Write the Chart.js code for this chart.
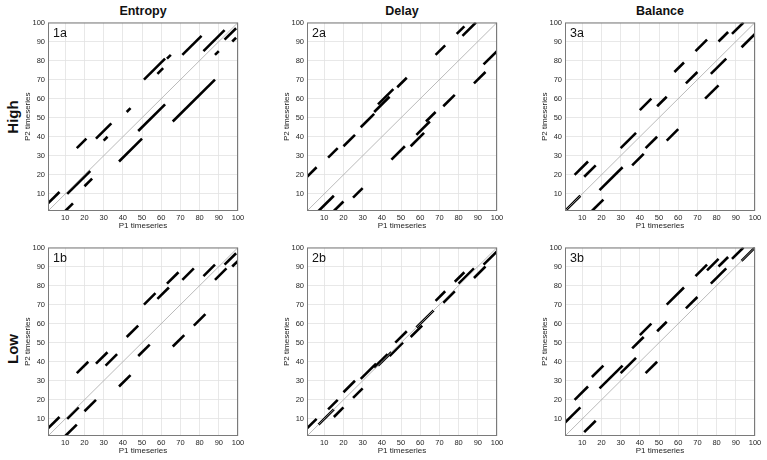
<!DOCTYPE html>
<html>
<head>
<meta charset="utf-8">
<script src="https://cdn.jsdelivr.net/npm/chart.js@4.4.1/dist/chart.umd.min.js"></script>
<style>
body { margin: 0; width: 767px; height: 460px; background: #fff; position: relative; overflow: hidden;
       font-family: "Liberation Sans", Arial, sans-serif; color: #111; }
canvas { position: absolute; }
.col { position: absolute; top: 4px; width: 190px; text-align: center; font-weight: bold; font-size: 12.5px; line-height: 14px; }
.row { position: absolute; width: 60px; text-align: center; font-weight: bold; font-size: 15px; line-height: 16px; transform: rotate(-90deg); }
.tag { position: absolute; font-size: 12.5px; line-height: 14px; }
</style>
</head>
<body>
<script>
// column / row titles and panel tags
var columns = ["Entropy", "Delay", "Balance"];
var rows = ["High", "Low"];
var tags = [["1a", "2a", "3a"], ["1b", "2b", "3b"]];
var tickValues = [10, 20, 30, 40, 50, 60, 70, 80, 90, 100];

// recurrence segments, each [x0, y0, x1, y1]
var entropyHigh = [
    [1,5,7,11], [11,10,23,22], [10,1,14,5], [20,14,24,18], [16,34,21,39], [26,39,34,47],
    [30,38,32,40], [38,27,50,39], [42,53,44,55], [48,43,62,57], [66,48,88,70], [51,70,62,81],
    [58,73,61,76], [63,81,65,83], [71,83,81,93], [82,85,93,96], [88,83,90,85], [93,91,99,97],
    [97,90,99,92]
];
var delayHigh = [
    [1,19,6,24], [7,1,15,9], [15,1,20,6], [25,8,30,13], [12,29,17,34], [20,35,26,41],
    [29,45,36,52], [36,53,44,61], [38,57,46,65], [48,66,53,71], [68,83,73,88], [79,94,83,98],
    [82,93,89,100], [93,78,100,85], [88,68,94,74], [72,56,78,62], [63,48,68,53], [58,41,65,48],
    [55,35,62,42], [45,28,52,35]
];
var balanceHigh = [
    [1,1,9,9], [15,1,21,7], [19,12,31,24], [6,20,13,27], [11,19,17,25], [30,34,38,42],
    [36,25,42,31], [43,34,49,40], [54,38,60,44], [40,54,46,60], [49,56,54,61], [58,74,63,79],
    [64,68,70,74], [74,60,81,67], [77,73,85,81], [69,85,75,91], [81,90,86,95], [88,94,94,100],
    [93,87,100,94]
];
var entropyLow = [
    [1,5,7,11], [11,10,17,16], [10,1,16,7], [20,14,26,20], [16,34,22,40], [26,39,32,45],
    [31,38,37,44], [38,27,44,33], [42,53,48,59], [48,43,54,49], [66,48,72,54], [77,59,83,65],
    [51,70,57,76], [58,73,64,79], [63,81,69,87], [71,83,77,89], [82,85,88,91], [88,83,94,89],
    [93,91,99,97], [97,90,100,93]
];
var delayLow = [
    [1,5,6,10], [7,7,15,15], [12,15,17,20], [15,11,20,16], [20,24,26,30], [25,21,30,26],
    [29,31,37,39], [36,37,43,44], [38,38,45,45], [44,43,51,50], [47,50,53,56], [55,53,61,59],
    [58,58,67,67], [68,72,73,77], [72,71,78,77], [78,82,83,87], [80,81,88,89], [88,84,94,90],
    [93,91,100,98]
];
var balanceLow = [
    [1,8,9,16], [11,3,17,9], [6,20,13,27], [15,32,21,38], [19,26,31,38], [30,34,38,42],
    [36,47,42,53], [40,54,46,60], [43,34,49,40], [49,56,54,61], [54,70,63,79], [64,68,70,74],
    [69,85,75,91], [75,88,81,94], [81,90,86,95], [77,81,85,89], [88,94,94,100], [93,93,100,100]
];

var panels = [[entropyHigh, delayHigh, balanceHigh], [entropyLow, delayLow, balanceLow]];
var plotLefts = [48, 307, 565];
var plotTops = [21, 246];
var rowCenters = [117, 349];

var frame = {
    id: "frame",
    afterDatasetsDraw: function(chart) {
        var a = chart.chartArea, c = chart.ctx;
        c.save();
        c.strokeStyle = "#7a7a7a";
        c.lineWidth = 1;
        c.strokeRect(a.left + 0.5, a.top + 0.5, a.right - a.left - 1, a.bottom - a.top - 1);
        c.restore();
    }
};

function axis(title, isY) {
    return {
        type: "linear", min: 1, max: 100,
        afterBuildTicks: function(s) { s.ticks = tickValues.map(function(v) { return {value: v}; }); },
        afterFit: function(s) { if (isY) s.width = 25; else s.height = 20; },
        ticks: { font: {size: 7.5, family: "Liberation Sans"}, color: "#262626", padding: isY ? 3 : 2,
                 maxRotation: 0, autoSkip: false },
        grid: { color: "#e2e2e2", drawTicks: false, lineWidth: 0.8 },
        border: { display: false },
        title: { display: true, text: title, color: "#222", padding: 0,
                 font: {size: 8, family: "Liberation Sans"} }
    };
}

function makeChart(left, top, segs) {
    var cv = document.createElement("canvas");
    cv.width = 225; cv.height = 216;
    cv.style.left = (left - 25) + "px";
    cv.style.top = (top - 6) + "px";
    document.body.appendChild(cv);
    var datasets = [{
        data: [{x: 1, y: 1}, {x: 100, y: 100}],
        showLine: true, borderColor: "#a8a8a8", borderWidth: 0.8, pointRadius: 0
    }];
    segs.forEach(function(s) {
        datasets.push({
            data: [{x: s[0], y: s[1]}, {x: s[2], y: s[3]}],
            showLine: true, borderColor: "#000", borderWidth: 2.6, borderCapStyle: "butt", pointRadius: 0
        });
    });
    new Chart(cv.getContext("2d"), {
        type: "scatter",
        data: { datasets: datasets },
        options: {
            responsive: false, animation: false,
            layout: { padding: {top: 6, right: 10, left: 0, bottom: 0} },
            plugins: { legend: {display: false}, tooltip: {enabled: false} },
            scales: { x: axis("P1 timeseries", false), y: axis("P2 timeseries", true) }
        },
        plugins: [frame]
    });
}

function addText(cls, text, left, top) {
    var d = document.createElement("div");
    d.className = cls;
    d.textContent = text;
    d.style.left = left + "px";
    d.style.top = top + "px";
    document.body.appendChild(d);
}

for (var c = 0; c < 3; c++) addText("col", columns[c], plotLefts[c], 4);
for (var r = 0; r < 2; r++) {
    addText("row", rows[r], 13 - 30, rowCenters[r] - 8);
    for (var c = 0; c < 3; c++) {
        makeChart(plotLefts[c], plotTops[r], panels[r][c]);
        addText("tag", tags[r][c], plotLefts[c] + 5, plotTops[r] + 5);
    }
}
</script>
</body>
</html>
